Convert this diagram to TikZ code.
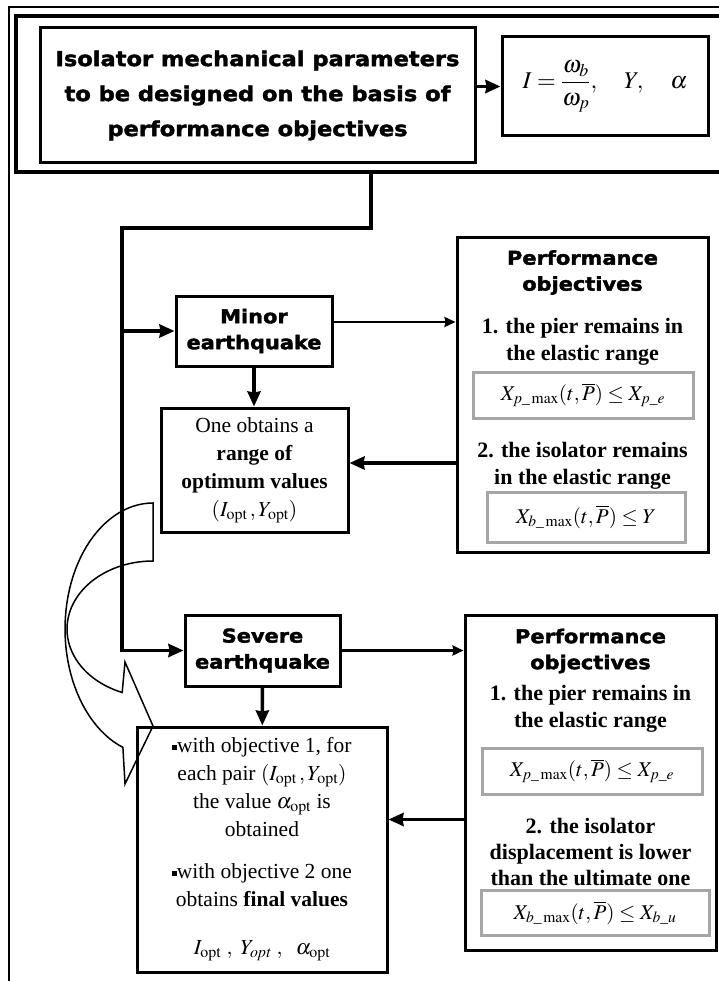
\documentclass[tikz,border=0pt]{standalone}
\usepackage{amsmath}
\usepackage{mathptmx}
\usepackage[no-math]{fontspec}
\setmainfont{Liberation Serif}
\newfontfamily\heavyfont{DejaVu Sans Bold}[FakeStretch=1.1,FakeBold=2]
\usepackage{tikz}
\usetikzlibrary{positioning,arrows.meta}

\newcommand{\sqbullet}{\raisebox{0.3ex}{\rule{0.22em}{0.22em}}}

\begin{document}
\begin{tikzpicture}[x=1pt,y=-1pt,>={Stealth[length=15pt,width=13pt,inset=1pt]},
    box/.style={draw,line width=3pt,align=center},
    headtext/.style={align=center,font=\heavyfont\fontsize{19}{26}\selectfont},
    bodytext/.style={align=center,font=\fontsize{21.5}{28}\selectfont},
    objtext/.style={align=center,font=\bfseries\fontsize{22}{27}\selectfont},
    eqbox/.style={draw=gray!70,line width=3pt,font=\fontsize{21}{25}\selectfont},
    flow/.style={->,line width=3.5pt},
    thinflow/.style={->,line width=2.5pt,>={Stealth[length=11pt,width=10pt,inset=1pt]}}]
  \useasboundingbox (0,0) rectangle (719,981);

  % frames
  \draw[line width=1.5pt] (719,7) -| (9,981);
  \draw[line width=4pt] (719,16) -| (16,172) -- (719,172);

  % parameters to design
  \node[box,minimum width=435pt,minimum height=135pt,
        font=\heavyfont\fontsize{20.5}{35}\selectfont] (title) at (257.5,95.5)
    {Isolator mechanical parameters\\to be designed on the basis of\\performance objectives};
  \node[box,minimum width=206pt,minimum height=99pt,font=\fontsize{24}{28}\selectfont] (params) at (605,86.5)
    {$I=\dfrac{\omega_b}{\omega_p},\quad Y,\quad \alpha$};

  % minor earthquake
  \node[box,minimum width=156pt,minimum height=70pt,headtext] (minor) at (254,331) {Minor\\earthquake};
  \node[box,minimum width=187pt,minimum height=124pt,bodytext] (range) at (254.5,470)
    {One obtains a\\\textbf{range of}\\\textbf{optimum values}\\$(I_{\mathrm{opt}}\,, Y_{\mathrm{opt}})$};
  \node[box,minimum width=251pt,minimum height=314pt] (perf1) at (582.5,395) {};
  \node[headtext] (head1) at (582.5,272.5) {Performance\\objectives};
  \node[objtext] (obj11) at (582.5,341.5) {1. the pier remains in\\the elastic range};
  \node[eqbox,minimum width=220pt,minimum height=46pt] (eq11) at (583,395)
    {$X_{p\_\max}(t,\overline{P})\le X_{p\_e}$};
  \node[objtext] (obj12) at (582.5,466) {2. the isolator remains\\in the elastic range};
  \node[eqbox,minimum width=198pt,minimum height=50pt] (eq12) at (586,517)
    {$X_{b\_\max}(t,\overline{P})\le Y$};

  % severe earthquake
  \node[box,minimum width=155pt,minimum height=71pt,headtext] (severe) at (262.5,650.5) {Severe\\earthquake};
  \node[box,minimum width=250pt,minimum height=245pt,bodytext] (final) at (262,849.5)
    {\sqbullet with objective 1, for\\each pair $(I_{\mathrm{opt}}\,, Y_{\mathrm{opt}})$\\the value $\alpha_{\mathrm{opt}}$ is\\obtained\\[14pt]
     \sqbullet with objective 2 one\\obtains \textbf{final values}\\[20pt]
     $I_{\mathrm{opt}}\ ,\ Y_{\mathit{opt}}\ ,\ \ \alpha_{\mathrm{opt}}$};
  \node[box,minimum width=251pt,minimum height=335pt] (perf2) at (590.5,782.5) {};
  \node[headtext] (head2) at (590.5,651) {Performance\\objectives};
  \node[objtext] (obj21) at (590.5,708.5) {1. the pier remains in\\the elastic range};
  \node[eqbox,minimum width=220pt,minimum height=46pt] (eq21) at (592,771)
    {$X_{p\_\max}(t,\overline{P})\le X_{p\_e}$};
  \node[objtext,font=\bfseries\fontsize{22}{26}\selectfont] (obj22) at (590.5,852)
    {2. the isolator\\displacement is lower\\than the ultimate one};
  \node[eqbox,minimum width=228pt,minimum height=45pt] (eq22) at (595,913)
    {$X_{b\_\max}(t,\overline{P})\le X_{b\_u}$};

  % connectors
  \coordinate (drop) at (371,172);
  \coordinate (spine) at (122,228);
  \draw[flow] (title.east |- params.west) -- (params.west);
  \draw[flow] (drop) |- (spine) |- (severe.west);
  \draw[flow] (spine |- minor.west) -- (minor.west);
  \draw[thinflow] ([yshift=9pt]minor.east) -- ([yshift=9pt]minor.east -| perf1.west);
  \draw[flow] ([yshift=7pt]range.east -| perf1.west) -- ([yshift=7pt]range.east);
  \draw[flow] (minor.south) -- (minor.south |- range.north);
  \draw[thinflow] (severe.east) -- (severe.east -| perf2.west);
  \draw[flow] ([yshift=30pt]final.east -| perf2.west) -- ([yshift=30pt]final.east);
  \draw[flow] (severe) -- (final);

  % curved arrow from the range of values to the final values
  \draw[line width=1.5pt,line join=miter] (153,561) -- (153,503)
    -- plot[domain=90:250,samples=50] ({153+88*cos(\x)},{629-126*sin(\x)})
    -- (125,784) -- (153,726) -- (125,662)
    -- plot[domain=249:90,samples=50] ({153+86*cos(\x)},{629-68*sin(\x)}) -- cycle;
\end{tikzpicture}
\end{document}
